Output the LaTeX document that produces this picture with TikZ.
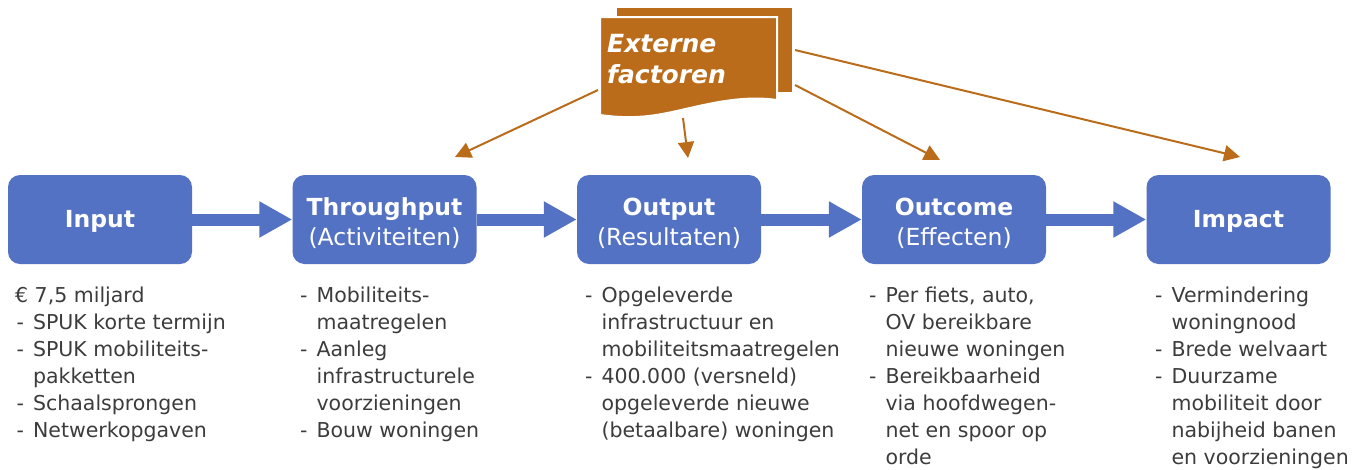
\documentclass[tikz,border=0pt]{standalone}
\usepackage{fontspec}
\setmainfont{DejaVu Sans}
\usetikzlibrary{arrows.meta}
\definecolor{boxblue}{RGB}{84,114,196}
\definecolor{extorange}{RGB}{186,108,26}
\definecolor{txtgray}{RGB}{60,60,60}
\begin{document}
\begin{tikzpicture}[x=1pt,y=-1pt,
  stage/.style={fill=boxblue, rounded corners=12pt, minimum width=184pt, minimum height=89pt,
    inner sep=0pt},
  stagetxt/.style={inner sep=0pt, text=white, align=center, font=\fontsize{23.5}{30}\selectfont},
  flow/.style={draw=boxblue, line width=12pt, -{Triangle[length=33pt,width=34pt]}},
  ext/.style={draw=extorange, line width=2pt, -{Triangle[length=16pt,width=16pt]}},
  listtxt/.style={anchor=base west, inner sep=0pt, text=txtgray, font=\fontsize{20.5}{27}\selectfont},
  exttxt/.style={anchor=base west, inner sep=0pt, text=white, font=\fontsize{25}{30}\selectfont\bfseries\itshape}
]
\useasboundingbox (0,0) rectangle (1368,469);

% stages
\node[stage] (input) at (100,219.5) {};
\node[stage] (thru) at (384.5,219.5) {};
\node[stage] (out) at (669,219.5) {};
\node[stage] (outc) at (954,219.5) {};
\node[stage] (imp) at (1238.5,219.5) {};
\node[stagetxt] (inputt) at ([yshift=-2pt]input.center) {\textbf{Input}};
\node[stagetxt] (thrut) at ([yshift=-4pt]thru.center) {\textbf{Throughput}\\(Activiteiten)};
\node[stagetxt] (outt) at ([yshift=-4pt]out.center) {\textbf{Output}\\(Resultaten)};
\node[stagetxt] (outct) at ([yshift=-4pt]outc.center) {\textbf{Outcome}\\(Effecten)};
\node[stagetxt] (impt) at ([yshift=-2pt]imp.center) {\textbf{Impact}};

\draw[flow] (input.east) -- (thru.west);
\draw[flow] (thru.east) -- (out.west);
\draw[flow] (out.east) -- (outc.west);
\draw[flow] (outc.east) -- (imp.west);

% external factors document
\fill[extorange] (617,8) rectangle (792,92);
\path[fill=extorange, draw=white, line width=2pt] (600,17) -- (777,17) -- (777,100)
  .. controls (735,94) and (695,108) .. (662,114)
  .. controls (635,119) and (615,117) .. (600,115) -- cycle;
\node[exttxt] (ext1) at (607,52) {Externe};
\node[exttxt] (ext2) at (607,83) {factoren};

\coordinate (e1s) at (598,90);
\coordinate (e1t) at (455,157);
\coordinate (e2s) at (683,118);
\coordinate (e2t) at (688,158);
\coordinate (e3s) at (795,85);
\coordinate (e3t) at (940,160);
\coordinate (e4s) at (795,50);
\coordinate (e4t) at (1240,157);
\draw[ext] (e1s) -- (e1t);
\draw[ext] (e2s) -- (e2t);
\draw[ext] (e3s) -- (e3t);
\draw[ext] (e4s) -- (e4t);

% lists
\node[listtxt] (l1) at (15,302) {\begin{tabular}[t]{@{}l@{\hspace{9pt}}l@{}}
\multicolumn{2}{@{}l@{}}{€ 7,5 miljard}\\
\hspace{1.5pt}- & SPUK korte termijn\\
\hspace{1.5pt}- & SPUK mobiliteits-\\
 & pakketten\\
\hspace{1.5pt}- & Schaalsprongen\\
\hspace{1.5pt}- & Netwerkopgaven
\end{tabular}};

\node[listtxt] (l2) at (300,302) {\begin{tabular}[t]{@{}l@{\hspace{9pt}}l@{}}
- & Mobiliteits-\\
 & maatregelen\\
- & Aanleg\\
 & infrastructurele\\
 & voorzieningen\\
- & Bouw woningen
\end{tabular}};

\node[listtxt] (l3) at (585,302) {\begin{tabular}[t]{@{}l@{\hspace{9pt}}l@{}}
- & Opgeleverde\\
 & infrastructuur en\\
 & mobiliteitsmaatregelen\\
- & 400.000 (versneld)\\
 & opgeleverde nieuwe\\
 & (betaalbare) woningen
\end{tabular}};

\node[listtxt] (l4) at (869,302) {\begin{tabular}[t]{@{}l@{\hspace{9pt}}l@{}}
- & Per fiets, auto,\\
 & OV bereikbare\\
 & nieuwe woningen\\
- & Bereikbaarheid\\
 & via hoofdwegen-\\
 & net en spoor op\\
 & orde
\end{tabular}};

\node[listtxt] (l5) at (1155,302) {\begin{tabular}[t]{@{}l@{\hspace{9pt}}l@{}}
- & Vermindering\\
 & woningnood\\
- & Brede welvaart\\
- & Duurzame\\
 & mobiliteit door\\
 & nabijheid banen\\
 & en voorzieningen
\end{tabular}};
\end{tikzpicture}
\end{document}
